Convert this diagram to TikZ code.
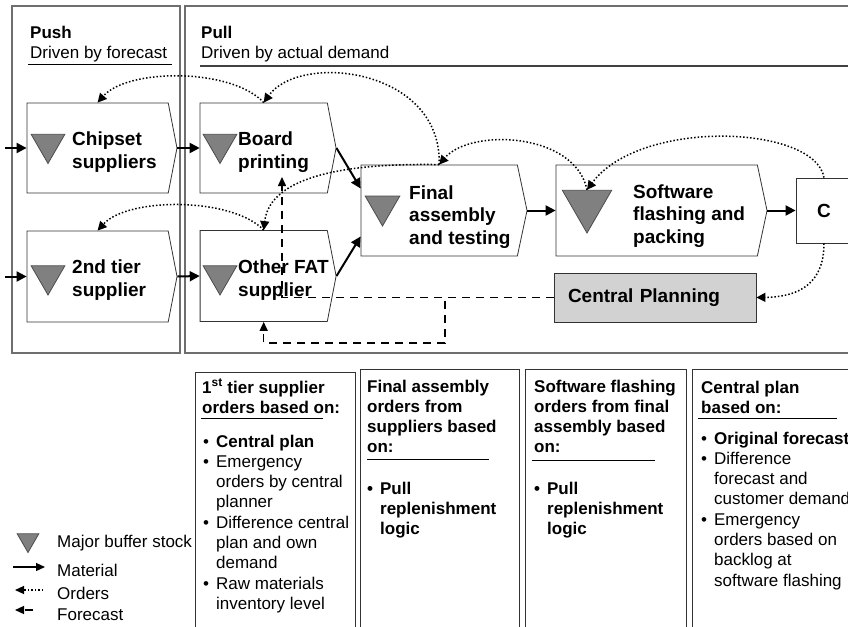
\documentclass[tikz,border=0pt]{standalone}
\usepackage{fontspec}
\setmainfont{Liberation Sans}
\usetikzlibrary{arrows.meta,shapes.geometric,shapes.symbols,positioning}

\definecolor{buffergray}{RGB}{128,128,128}
\definecolor{plangray}{RGB}{210,210,210}
\definecolor{panelgray}{RGB}{110,110,110}

\tikzset{
  stage/.style={signal, signal to=east, signal pointer angle=158, draw=black!80,
    line width=0.8pt, fill=white, inner sep=0pt, minimum height=90pt},
  buffer/.style={regular polygon, regular polygon sides=3, shape border rotate=180,
    fill=buffergray, draw=black!70, line width=0.8pt, inner sep=0pt, minimum size=#1},
  buffer/.default=39pt,
  stagetext/.style={font=\fontsize{19}{22.5}\selectfont\bfseries, align=left,
    anchor=west, inner sep=0pt},
  coltext/.style={font=\fontsize{17}{20.3}\selectfont, anchor=base west, inner sep=0pt},
  panel/.style={draw=panelgray, line width=1.2pt},
  colbox/.style={draw=black!80, line width=1pt},
  material/.style={line width=2pt, -{Triangle[length=10pt,width=10pt]}},
  orders/.style={line width=1.5pt, dotted, -{Triangle[length=9pt,width=9pt]}},
  forecast/.style={line width=1.5pt, dash pattern=on 8pt off 6pt,
    -{Triangle[length=9pt,width=8pt]}},
}

\begin{document}
\begin{tikzpicture}[x=1pt,y=-1pt]
\path[use as bounding box, clip] (0,0) rectangle (848,626);

% Push / Pull panels
\draw[panel] (12,6) rectangle (180,353);
\draw[panel] (185,6) rectangle (870,353);
\node[coltext, font=\fontsize{17}{20.3}\selectfont\bfseries] (pushhd) at (30,39) {Push};
\node[coltext] (pushsub) at (30,59) {Driven by forecast};
\draw[line width=1pt] (28,65) -- (172,65);
\node[coltext, font=\fontsize{17}{20.3}\selectfont\bfseries] (pullhd) at (201,39) {Pull};
\node[coltext] (pullsub) at (201,59) {Driven by actual demand};
\draw[line width=1pt, draw=black!75] (200,66) -- (870,66);

% Stages
\node[stage, minimum width=150pt] (chip) at (97.6,148) {};
\node[stage, minimum width=136pt] (brd) at (263.7,148) {};
\node[stage, minimum width=150pt, minimum height=91pt] (sec) at (97.6,276.5) {};
\node[stage, minimum width=136pt, minimum height=91pt] (fat) at (263.7,276) {};
\node[stage, signal pointer angle=156, minimum width=166pt, minimum height=91pt] (fin) at (439.2,210.5) {};
\node[stage, signal pointer angle=156, minimum width=211pt, minimum height=91pt] (sw) at (656.7,210.5) {};
\node[draw=black!80, line width=0.8pt, minimum width=56pt, minimum height=65pt,
  font=\fontsize{19}{22.5}\selectfont\bfseries] (cust) at (824,210.5) {C};
\node[draw=black!80, fill=plangray, line width=0.8pt, minimum height=49pt,
  text width=174pt, inner xsep=14pt, align=left,
  font=\fontsize{19}{22.5}\selectfont\bfseries] (cp) at (655,297.5) {Central Planning};

% Buffer stocks
\node[buffer] (chipbuf) at (48,144) {};
\node[buffer] (brdbuf) at (220,144) {};
\node[buffer] (secbuf) at (48,275.5) {};
\node[buffer] (fatbuf) at (220,275.5) {};
\node[buffer=40pt] (finbuf) at (382.5,206) {};
\node[buffer=57pt] (swbuf) at (587,204.5) {};

\node[stagetext] (chiptx) at (72,152) {Chipset\\suppliers};
\node[stagetext] (brdtx) at (238,152) {Board\\printing};
\node[stagetext] (sectx) at (72,280) {2nd tier\\supplier};
\node[stagetext] (fattx) at (238,280) {Other FAT\\supplier};
\node[stagetext] (fintx) at (409,217) {Final\\assembly\\and testing};
\node[stagetext] (swtx) at (633,216) {Software\\flashing and\\packing};

% Material
\coordinate (chipin) at (5,148);
\coordinate (secin) at (5,276.5);
\draw[material] (chipin) -- (chip.west);
\draw[material] (chip.east) -- (brd.west);
\draw[material] (secin) -- (sec.west);
\draw[material] (sec.east) -- (fat.west);
\draw[material] (brd.east) -- ([yshift=22pt]fin.west);
\draw[material] (fat.east) -- ([yshift=-26pt]fin.west);
\draw[material] (fin.east) -- (sw.west);
\draw[material] (sw.east) -- (cust.west);

% Orders
\draw[orders] (brd.north) .. controls (232,68) and (128,68) .. (chip.north);
\draw[orders] (fat.north) .. controls (232,197) and (128,197) .. (sec.north);
\draw[orders] (fin.north) .. controls (442,68) and (300,52) .. (brd.north);
\draw[orders] (fin.north) .. controls (350,163) and (270,175) .. (fat.north);
\draw[orders] (swbuf.north) .. controls (575,132) and (470,128) .. (fin.north);
\draw[orders] (cust.north) .. controls (815,125) and (640,118) .. (swbuf.north);
\draw[orders] (cust.south) .. controls (824,290) and (790,297) .. (cp.east);

% Forecast
\coordinate (brdfc) at (282,177);
\draw[forecast] (cp.west) -| (brdfc);
\draw[forecast] (cp.west) -| (445,343) -| (fat.south);

% Order rules per stage
\draw[colbox] (195,372) rectangle (355,640);
\draw[colbox] (360,369) rectangle (519,640);
\draw[colbox] (525,369) rectangle (686,640);
\draw[colbox] (692,369) rectangle (870,640);

\node[coltext] (tierhd) at (202,393) {\bfseries\begin{tabular}[t]{@{}l@{}}
  1\textsuperscript{st} tier supplier\\orders based on:\end{tabular}};
\draw[line width=1pt] (201,418) -- (323,418);
\node[coltext] (tierls) at (203,447) {\begin{tabular}[t]{@{}l@{\hspace{7pt}}l@{}}
  \textbullet & \textbf{Central plan}\\
  \textbullet & Emergency\\
   & orders by central\\
   & planner\\
  \textbullet & Difference central\\
   & plan and own\\
   & demand\\
  \textbullet & Raw materials\\
   & inventory level
  \end{tabular}};

\node[coltext] (finhd) at (367,392) {\bfseries\begin{tabular}[t]{@{}l@{}}
  Final assembly\\orders from\\suppliers based\\on:\end{tabular}};
\draw[line width=1pt] (367,459) -- (489,459);
\node[coltext] (finls) at (367,494) {\bfseries\begin{tabular}[t]{@{}l@{\hspace{7pt}}l@{}}
  \textbullet & Pull\\ & replenishment\\ & logic\end{tabular}};

\node[coltext] (swhd) at (534,392) {\bfseries\begin{tabular}[t]{@{}l@{}}
  Software flashing\\orders from final\\assembly based\\on:\end{tabular}};
\draw[line width=1pt] (532,460) -- (655,460);
\node[coltext] (swls) at (534,494) {\bfseries\begin{tabular}[t]{@{}l@{\hspace{7pt}}l@{}}
  \textbullet & Pull\\ & replenishment\\ & logic\end{tabular}};

\node[coltext] (cphd) at (701,393) {\bfseries\begin{tabular}[t]{@{}l@{}}
  Central plan\\based on:\end{tabular}};
\draw[line width=1pt] (698,418) -- (837,418);
\node[coltext] (cpls) at (701,444) {\begin{tabular}[t]{@{}l@{\hspace{7pt}}l@{}}
  \textbullet & \textbf{Original forecast}\\
  \textbullet & Difference\\
   & forecast and\\
   & customer demand\\
  \textbullet & Emergency\\
   & orders based on\\
   & backlog at\\
   & software flashing
  \end{tabular}};

% Legend
\node[buffer=25pt] (legbuf) at (28,540) {};
\node[coltext, anchor=west] (legbuftx) at (57,543) {Major buffer stock};
\node[coltext, anchor=west] (legmat) at (57,570) {Material};
\node[coltext, anchor=west] (legord) at (57,593) {Orders};
\node[coltext, anchor=west] (legfc) at (57,615) {Forecast};
\draw[material, line width=1.3pt, -{Triangle[length=9pt,width=8pt]}]
  ([xshift=-44pt,yshift=3pt]legmat.west) -- ([xshift=-12pt,yshift=3pt]legmat.west);
\draw[orders, line width=1.2pt, -{Triangle[length=9pt,width=8pt]}]
  ([xshift=-14pt,yshift=3pt]legord.west) -- ([xshift=-42pt,yshift=3pt]legord.west);
\draw[forecast, line width=1.3pt]
  ([xshift=-24pt,yshift=5pt]legfc.west) -- ([xshift=-42pt,yshift=5pt]legfc.west);
\end{tikzpicture}
\end{document}
